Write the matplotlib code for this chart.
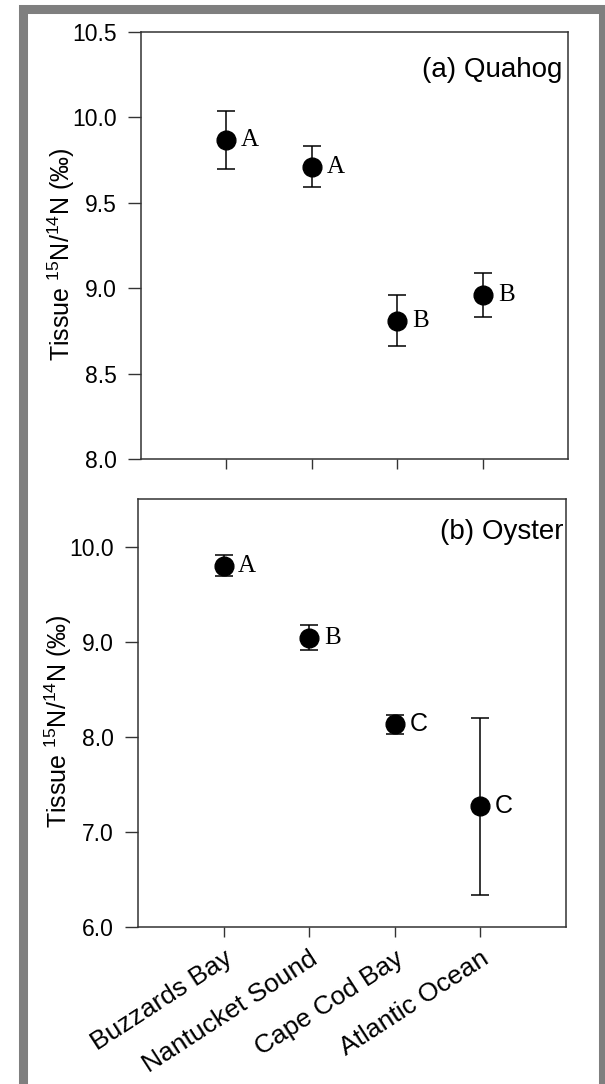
import numpy as np
import matplotlib
matplotlib.use('Agg')
import matplotlib.pyplot as plt
from matplotlib.patches import Rectangle

plt.rcParams['font.family'] = ['Liberation Sans', 'DejaVu Sans']
plt.rcParams['mathtext.fontset'] = 'custom'
plt.rcParams['mathtext.rm'] = 'Liberation Sans'
plt.rcParams['mathtext.it'] = 'Liberation Sans:italic'

# Sitios de muestreo
sitios = ['Buzzards Bay', 'Nantucket Sound', 'Cape Cod Bay', 'Atlantic Ocean']

# (a) Quahog: media y error del d15N en tejido
quahog_media = [9.87, 9.71, 8.81, 8.96]
quahog_err = [0.17, 0.12, 0.15, 0.13]
quahog_letras = ['A', 'A', 'B', 'B']

# (b) Oyster
ostra_media = [9.80, 9.04, 8.13, 7.27]
ostra_err = [0.11, 0.13, 0.10, 0.93]
ostra_letras = ['A', 'B', 'C', 'C']
ostra_fuente = ['serif', 'serif', 'sans', 'sans']

x = np.arange(1, len(sitios) + 1)
etiqueta_y = r'Tissue $^{15}$N/$^{14}$N (‰)'
color_eje = '#333333'

fig = plt.figure(figsize=(6.05, 10.84), dpi=100)
ax1 = fig.add_axes([0.2331, 0.5766, 0.7057, 0.3939])
ax2 = fig.add_axes([0.2281, 0.1448, 0.7074, 0.3949])


def panel(ax, media, err, letras, fuentes, ylim, yticks):
    ax.errorbar(x, media, yerr=err, fmt='o', color='black', ms=13.5,
                capsize=6.5, elinewidth=1.1, capthick=1.1)
    for xi, yi, letra, f in zip(x, media, letras, fuentes):
        fam = ['Liberation Serif'] if f == 'serif' else ['Liberation Sans']
        ax.annotate(letra, (xi, yi), xytext=(17, 0), textcoords='offset points',
                    va='center', ha='center', fontsize=18, family=fam)
    ax.set_xlim(0, 5)
    ax.set_ylim(*ylim)
    ax.set_yticks(yticks)
    ax.set_yticklabels(['%.1f' % t for t in yticks])
    ax.set_xticks(x)
    ax.tick_params(axis='y', direction='out', length=9.5, width=1.0,
                   labelsize=16.5, pad=8, color=color_eje)
    ax.tick_params(axis='x', direction='out', length=7, width=1.0,
                   color=color_eje)
    for s in ax.spines.values():
        s.set_linewidth(1.1)
        s.set_color(color_eje)
    ax.set_ylabel(etiqueta_y, fontsize=18)
    ax.yaxis.set_label_coords(-0.15, 0.48)


panel(ax1, quahog_media, quahog_err, quahog_letras, ['serif'] * 4,
      (8.0, 10.5), np.arange(8.0, 10.51, 0.5))
ax1.set_xticklabels([])
ax1.text(0.986, 0.911, '(a) Quahog', transform=ax1.transAxes,
         ha='right', va='center', fontsize=20)

panel(ax2, ostra_media, ostra_err, ostra_letras, ostra_fuente,
      (6.0, 10.5), np.arange(6.0, 10.01, 1.0))
ax2.set_xticklabels(sitios, rotation=33, ha='right', rotation_mode='anchor',
                    fontsize=19)
ax2.tick_params(axis='x', pad=7)
ax2.text(0.995, 0.923, '(b) Oyster', transform=ax2.transAxes,
         ha='right', va='center', fontsize=20)

# Marco gris alrededor de la figura
W, H = 605, 1084
marco = Rectangle((22.5 / W, 1 - 1085.5 / H), 580 / W, 1077 / H,
                  transform=fig.transFigure, fill=False,
                  edgecolor='#7f7f7f', linewidth=6.5, clip_on=False)
fig.patches.append(marco)

fig.savefig('out.png', dpi=100)
